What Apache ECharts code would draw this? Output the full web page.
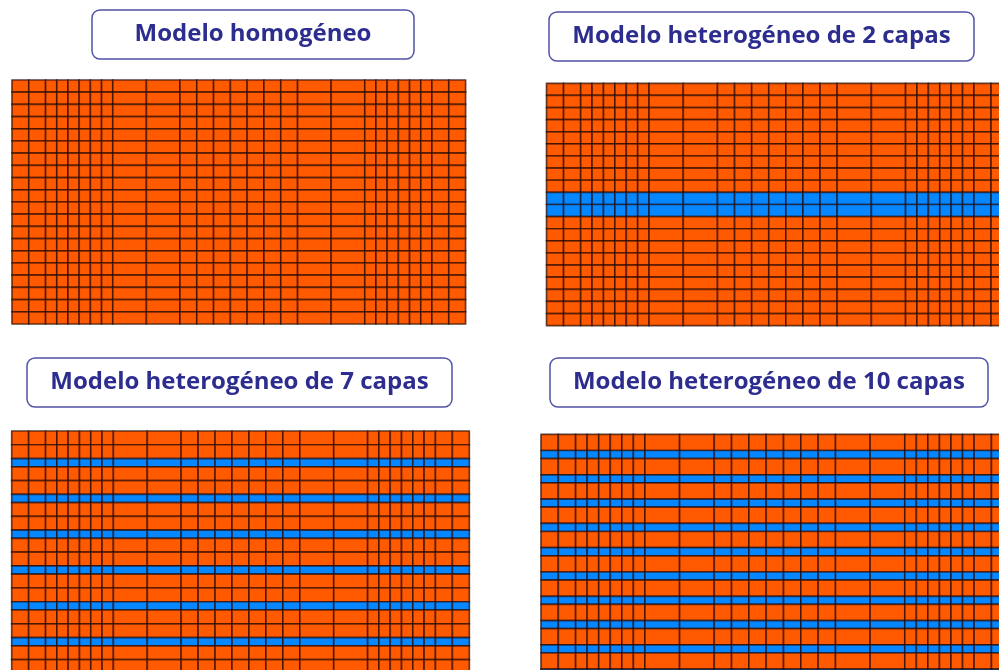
<!DOCTYPE html>
<html>
<head>
<meta charset="utf-8">
<script src="https://cdn.jsdelivr.net/npm/echarts@6/dist/echarts.min.js"></script>
<style>
  html, body { margin: 0; padding: 0; background: #fff; overflow: hidden; }
  /* el lienzo es más grande que la ventana: las mallas de abajo y de la derecha quedan cortadas */
  #mallas { width: 1030px; height: 730px; }
</style>
</head>
<body>
<div id="mallas"></div>
<script>
// anchos de columna de la malla (mismos para los cuatro modelos)
var colWidths = [1.5, 1.5, 1, 1, 1, 1, 1, 1, 3, 3, 1.5, 1.5, 1.5, 1.5, 1.5, 1.5, 1.5, 3, 3, 1, 1, 1, 1, 1, 1, 1.5, 1.5];

// espesor de cada fila y material (0 = naranja, 1 = azul)
var rowsHomogeneo = [1, 1, 1, 1, 1, 1, 1, 1, 1, 1, 1, 1, 1, 1, 1, 1, 1, 1, 1, 1];
var matHomogeneo  = [0, 0, 0, 0, 0, 0, 0, 0, 0, 0, 0, 0, 0, 0, 0, 0, 0, 0, 0, 0];

var rows2capas = [1, 1, 1, 1, 1, 1, 1, 1, 1, 1, 1, 1, 1, 1, 1, 1, 1, 1, 1, 1];
var mat2capas  = [0, 0, 0, 0, 0, 0, 0, 0, 0, 1, 1, 0, 0, 0, 0, 0, 0, 0, 0, 0];

var rows7capas = [1, 1, 0.6, 1, 1, 0.6, 1, 1, 0.6, 1, 1, 0.6, 1, 1, 0.6, 1, 1, 0.6, 1, 1, 0.6, 1, 1];
var mat7capas  = [0, 0, 1,   0, 0, 1,   0, 0, 1,   0, 0, 1,   0, 0, 1,   0, 0, 1,   0, 0, 1,   0, 0];

var rows10capas = [1, 0.5, 1, 0.5, 1, 0.5, 1, 0.5, 1, 0.5, 1, 0.5, 1, 0.5, 1, 0.5, 1, 0.5, 1, 0.5, 1];
var mat10capas  = [0, 1,   0, 1,   0, 1,   0, 1,   0, 1,   0, 1,   0, 1,   0, 1,   0, 1,   0, 1,   0];

var titles = ['Modelo homogéneo', 'Modelo heterogéneo de 2 capas',
              'Modelo heterogéneo de 7 capas', 'Modelo heterogéneo de 10 capas'];

var materialColors = ['#ff5a00', '#0787ff'];

// posición de cada panel en pixeles (escala px por unidad)
var panels = [
  { rows: rowsHomogeneo, mat: matHomogeneo, left: 12,    top: 80,    sx: 11.2,  sy: 12.2,
    box: [92, 10, 322, 49] },
  { rows: rows2capas,    mat: mat2capas,    left: 546.5, top: 83.3,  sx: 11.4,  sy: 12.12,
    box: [549, 12, 425, 49] },
  { rows: rows7capas,    mat: mat7capas,    left: 11.7,  top: 431,   sx: 11.3,  sy: 13.77,
    box: [27, 358, 425, 49] },
  { rows: rows10capas,   mat: mat10capas,   left: 541,   top: 434.3, sx: 11.55, sy: 16.2,
    box: [550, 358, 438, 49] }
];

function sum(a) { return a.reduce(function (s, v) { return s + v; }, 0); }

function buildCells(rows, mat) {
  var cells = [];
  var y0 = 0;
  for (var r = 0; r < rows.length; r++) {
    var x0 = 0;
    for (var c = 0; c < colWidths.length; c++) {
      cells.push([x0, x0 + colWidths[c], y0, y0 + rows[r], mat[r]]);
      x0 += colWidths[c];
    }
    y0 += rows[r];
  }
  return cells;
}

function renderCell(params, api) {
  var p0 = api.coord([api.value(0), api.value(2)]);
  var p1 = api.coord([api.value(1), api.value(3)]);
  return {
    type: 'rect',
    shape: {
      x: Math.min(p0[0], p1[0]),
      y: Math.min(p0[1], p1[1]),
      width: Math.abs(p1[0] - p0[0]),
      height: Math.abs(p1[1] - p0[1])
    },
    style: {
      fill: materialColors[api.value(4)],
      stroke: 'rgba(30,5,0,0.62)',
      lineWidth: 1.7
    }
  };
}

var chart = echarts.init(document.getElementById('mallas'));

var grids = [], xAxes = [], yAxes = [], series = [], graphics = [];
var totalX = sum(colWidths);

panels.forEach(function (p, i) {
  var totalY = sum(p.rows);
  grids.push({
    left: p.left, top: p.top,
    width: totalX * p.sx, height: totalY * p.sy,
    show: true, borderColor: '#a0a0a0', borderWidth: 1
  });
  xAxes.push({ type: 'value', gridIndex: i, min: 0, max: totalX, show: false });
  yAxes.push({ type: 'value', gridIndex: i, min: 0, max: totalY, inverse: true, show: false });
  series.push({
    type: 'custom',
    xAxisIndex: i, yAxisIndex: i,
    renderItem: renderCell,
    data: buildCells(p.rows, p.mat),
    silent: true,
    animation: false
  });
  graphics.push({
    type: 'rect',
    shape: { x: p.box[0], y: p.box[1], width: p.box[2], height: p.box[3], r: 8 },
    style: { fill: '#fff', stroke: '#5252a8', lineWidth: 1.5 }
  });
  graphics.push({
    type: 'text',
    x: p.box[0] + p.box[2] / 2,
    y: p.box[1] + p.box[3] / 2,
    style: {
      text: titles[i],
      fill: '#2d2d8f',
      font: 'bold 24px "Open Sans", sans-serif',
      align: 'center',
      verticalAlign: 'middle'
    }
  });
});

chart.setOption({
  backgroundColor: '#fff',
  animation: false,
  grid: grids,
  xAxis: xAxes,
  yAxis: yAxes,
  series: series,
  graphic: graphics
});
</script>
</body>
</html>
